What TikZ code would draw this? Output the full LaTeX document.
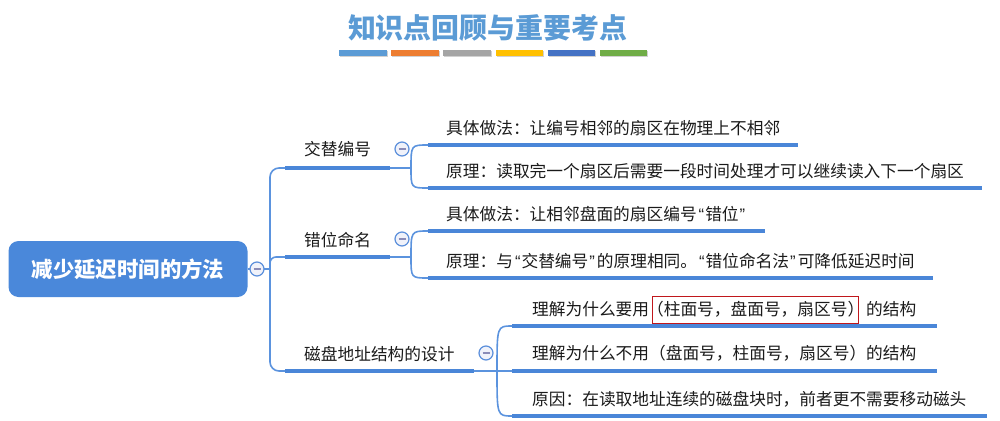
\documentclass[tikz,border=0pt]{standalone}
\usepackage{fontspec}
\setmainfont{Noto Sans CJK SC}
\newfontfamily\quotefont{Liberation Sans}
\usetikzlibrary{calc}
\definecolor{barblue}{HTML}{4A86D8}
\definecolor{linkblue}{HTML}{5B93DE}
\definecolor{rootblue}{HTML}{4A88DA}
\definecolor{foldblue}{HTML}{5B8FDB}
\definecolor{foldfill}{HTML}{F0F2FA}
\definecolor{foldminus}{HTML}{8A8CB8}
\definecolor{txt}{HTML}{1A1A1A}
\definecolor{titleblue}{HTML}{5B9BD5}
\definecolor{boxred}{HTML}{C0171C}
\definecolor{cA}{HTML}{5B9BD5}
\definecolor{cB}{HTML}{ED7D31}
\definecolor{cC}{HTML}{A5A5A5}
\definecolor{cD}{HTML}{FFC000}
\definecolor{cE}{HTML}{4472C4}
\definecolor{cF}{HTML}{70AD47}
\newcommand{\redframe}[1]{{\setlength{\fboxsep}{5pt}\setlength{\fboxrule}{1pt}\fcolorbox{boxred}{white}{\hspace{-11pt}#1\hspace{-11pt}}}}
\newcommand{\oq}{\kern2pt{\quotefont “}\kern1pt}
\newcommand{\cq}{\kern1pt{\quotefont ”}\kern2pt}
\begin{document}
\begin{tikzpicture}[x=1pt,y=-1pt,
  tx/.style={font=\fontsize{16.7}{20}\selectfont, text=txt, inner ysep=0pt, anchor=south west, text depth=10pt},
  lvlone/.style={tx, inner xsep=19pt},
  lvltwo/.style={tx, inner xsep=18pt},
  lvlthree/.style={tx, inner xsep=20pt},
  bar/.style={draw=barblue, line width=4.5pt},
  link/.style={draw=linkblue, line width=1.6pt},
  fold/.style={circle, draw=foldblue, line width=1.2pt, fill=foldfill, minimum size=14pt, inner sep=0pt,
    path picture={\draw[foldminus, line width=1.6pt] ([xshift=-3.5pt]path picture bounding box.center) -- ([xshift=3.5pt]path picture bounding box.center);}},
  rootbox/.style={fill=rootblue, rounded corners=10pt, minimum width=239pt, minimum height=56pt, text=white, font=\fontsize{21.4}{24}\selectfont\bfseries},
  titlebar/.style={minimum width=47.5pt, minimum height=6pt, inner sep=0pt, anchor=north west}
]
\useasboundingbox (0,0) rectangle (1000,420);

% title
\node[font=\fontsize{27.9}{30}\selectfont\bfseries, text=titleblue, inner sep=0pt] (title) at (487.5,28.5) {知识点回顾与重要考点};
\foreach \c [count=\i from 0] in {cA,cB,cC,cD,cE,cF}{
  \fill[black!18] (339+52.1*\i+1.2, 51.5) rectangle ++(47.5,6);
  \node[titlebar, fill=\c] (tb\i) at (339+52.1*\i, 50) {};
}

% root
\node[rootbox] (root) at (128,269) {减少延迟时间的方法};

% level one
\node[lvlone, text depth=12pt] (t1) at (285,168) {交替编号};
\node[lvlone] (t2) at (285,257) {错位命名};
\node[lvlone] (t3) at (285,371) {磁盘地址结构的设计};

% level two
\node[lvltwo] (a1) at (428,145) {具体做法：让编号相邻的扇区在物理上不相邻};
\node[lvltwo] (a2) at (428,188) {原理：读取完一个扇区后需要一段时间处理才可以继续读入下一个扇区};
\node[lvltwo] (b1) at (428,231) {具体做法：让相邻盘面的扇区编号\oq 错位\cq};
\node[lvltwo] (b2) at (428,278) {原理：与\oq 交替编号\cq 的原理相同。\oq 错位命名法\cq 可降低延迟时间};
\node[lvlthree] (c1) at (512,326) {理解为什么要用\hspace{3pt}\redframe{（柱面号，盘面号，扇区号）}\hspace{7pt}的结构};
\node[lvlthree, text depth=11pt] (c2) at (512,371) {理解为什么不用（盘面号，柱面号，扇区号）的结构};
\node[lvlthree] (c3) at (512,416) {原因：在读取地址连续的磁盘块时，前者更不需要移动磁头};

% junctions
\coordinate (jr) at (270,269);
\coordinate (j1) at (411,168);
\coordinate (j2) at (411,257);
\coordinate (j3) at (497,371);

% connectors
\draw[link] (root.east) -- (jr);
\draw[link, rounded corners=9pt] (jr) |- (t1.south west);
\draw[link, rounded corners=6pt] (jr) |- (t2.south west);
\draw[link, rounded corners=9pt] (jr) |- (t3.south west);

\draw[link] (t1.south east) -- (j1);
\draw[link] (j1) .. controls (j1 |- a1.south west) .. (a1.south west);
\draw[link] (j1) .. controls (j1 |- a2.south west) .. (a2.south west);

\draw[link] (t2.south east) -- (j2);
\draw[link] (j2) .. controls (j2 |- b1.south west) .. (b1.south west);
\draw[link] (j2) .. controls (j2 |- b2.south west) .. (b2.south west);

\draw[link] (t3.south east) -- (j3);
\draw[link] (j3) .. controls (j3 |- c1.south west) .. (c1.south west);
\draw[link] (j3) -- (c2.south west);
\draw[link] (j3) .. controls (j3 |- c3.south west) .. (c3.south west);

% bars
\foreach \n in {t1,t2,t3,a1,a2,b1,b2,c1,c2,c3}{
  \draw[bar] (\n.south west) -- (\n.south east);
}

% fold buttons
\node[fold] (f0) at (257,269) {};
\node[fold] (f1) at (402,149) {};
\node[fold] (f2) at (402,239) {};
\node[fold] (f3) at (486,353) {};
\end{tikzpicture}
\end{document}
